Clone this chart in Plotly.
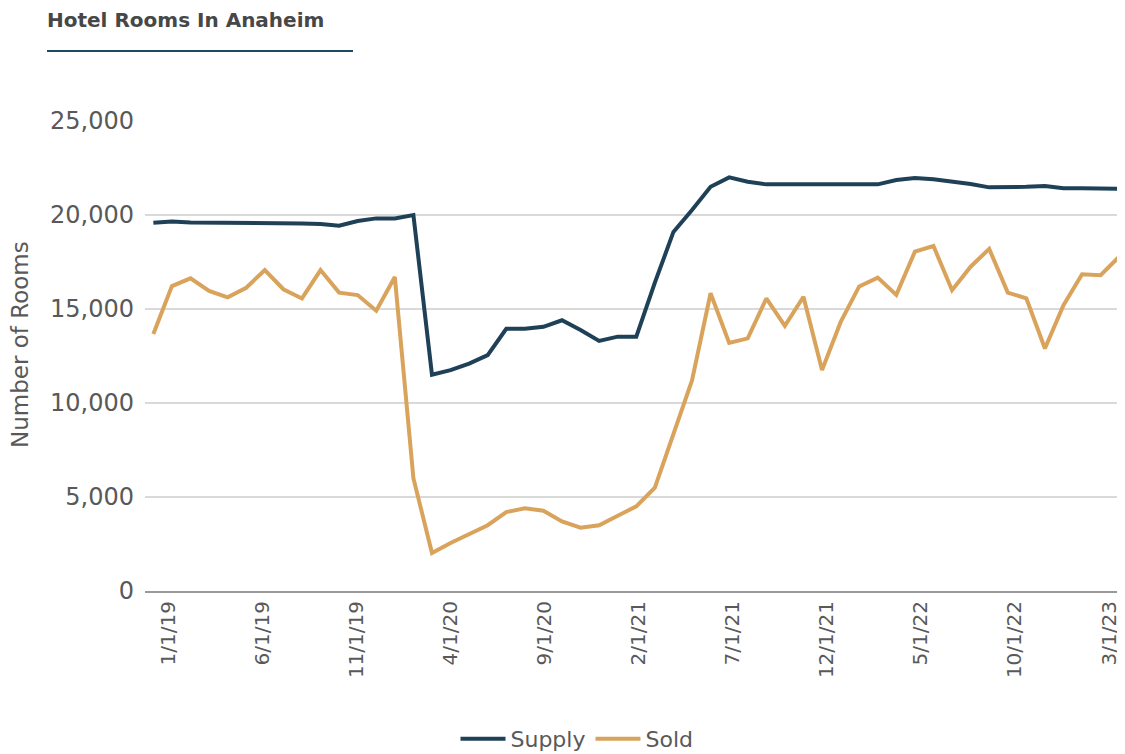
import plotly.graph_objects as go

# Monthly observations (53 points)
supply = [19590, 19650, 19600, 19600, 19600, 19590, 19550, 19550, 19550, 19520,
          19430, 19680, 19820, 19820, 20000, 11500, 11750, 12100, 12550, 13950,
          13950, 14050, 14400, 13880, 13300, 13530, 13530, 16400, 19100, 20270,
          21500, 22000, 21770, 21630, 21630, 21650, 21680, 21630, 21630, 21630,
          21860, 21970, 21900, 21800, 21650, 21470, 21470, 21500, 21540, 21420,
          21420, 21420, 21400]
sold = [13670, 16220, 16630, 15960, 15620, 16130, 17070, 16050, 15560, 17070,
        15870, 15740, 14910, 16700, 6000, 2020, 2550, 3000, 3500, 4200,
        4400, 4270, 3700, 3370, 3500, 4000, 4500, 5500, 8300, 11200,
        15840, 13200, 13440, 15560, 14100, 15650, 11750, 14300, 16200, 16670,
        15750, 18050, 18350, 16000, 17250, 18200, 15870, 15570, 12900, 15200,
        16850, 16800, 17780]
tick_labels = ["1/1/19", "6/1/19", "11/1/19", "4/1/20", "9/1/20", "2/1/21",
               "7/1/21", "12/1/21", "5/1/22", "10/1/22", "3/1/23"]

x = list(range(len(supply)))
# label positions spread across the axis as in the source chart
t0, t1 = 0.82, 51.45
tickvals = [t0 + (t1 - t0) * i / (len(tick_labels) - 1) for i in range(len(tick_labels))]

SUPPLY_COLOR = "#1f4157"
SOLD_COLOR = "#d9a35c"
FONT = "DejaVu Sans"
TXT = "#595959"

W, H = 1117, 746
L, T, B, R = 137, 113, 163, 3
pw = W - L - R
ph = H - T - B

fig = go.Figure()
fig.add_trace(go.Scatter(x=x, y=supply, mode="lines", name="Supply",
                         line=dict(color=SUPPLY_COLOR, width=4)))
fig.add_trace(go.Scatter(x=x, y=sold, mode="lines", name="Sold",
                         line=dict(color=SOLD_COLOR, width=4)))

fig.update_layout(
    width=W, height=H,
    margin=dict(l=L, r=R, t=T, b=B, autoexpand=False),
    paper_bgcolor="white", plot_bgcolor="white",
    font=dict(family=FONT, color=TXT),
    title=dict(text="<b>Hotel Rooms In Anaheim</b>", x=39 / W, xanchor="left",
               xref="container", y=1 - 12 / H, yanchor="middle", yref="container",
               font=dict(family=FONT, size=20, color="#474747")),
    showlegend=True,
    legend=dict(orientation="h", xref="container", yref="paper",
                x=569 / W, xanchor="center",
                y=-(731 - (T + ph)) / ph, yanchor="middle",
                itemwidth=45,
                font=dict(family=FONT, size=22, color=TXT)),
    xaxis=dict(range=[-0.45, 52.15], tickmode="array", tickvals=tickvals,
               ticktext=tick_labels, tickangle=-90, showgrid=False,
               showline=True, linecolor="#9a9a9a", linewidth=2,
               ticks="", ticklabeloverflow="allow",
               tickfont=dict(family=FONT, size=20, color=TXT),
               zeroline=False),
    yaxis=dict(range=[0, 25000], tickvals=[0, 5000, 10000, 15000, 20000, 25000],
               tickformat=",d", showgrid=True, gridcolor="#d9d9d9", gridwidth=1.5,
               zeroline=False, showline=False, ticks="", ticklabelstandoff=10,
               tickfont=dict(family=FONT, size=24, color=TXT)),
    annotations=[dict(text="Number of Rooms", textangle=-90, showarrow=False,
                      xref="paper", yref="paper",
                      x=(12 - L) / pw, y=(T + ph - 337) / ph,
                      xanchor="center", yanchor="middle",
                      font=dict(family=FONT, size=23, color=TXT))],
    shapes=[dict(type="line", xref="paper", yref="paper",
                 x0=(39 - L) / pw, x1=(345 - L) / pw,
                 y0=(T + ph - 43) / ph, y1=(T + ph - 43) / ph,
                 line=dict(color="#1f4a60", width=2))],
)

fig.write_html("out.html")
